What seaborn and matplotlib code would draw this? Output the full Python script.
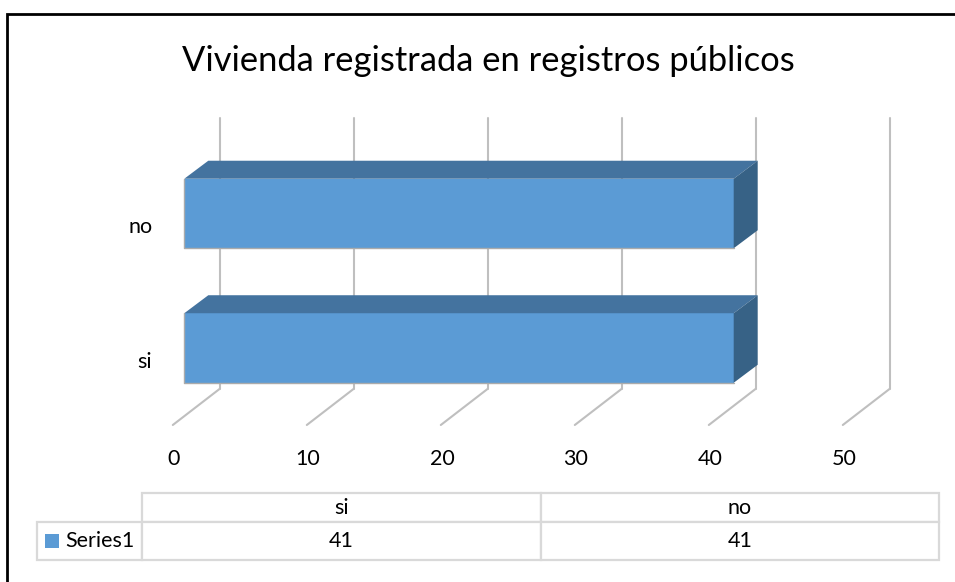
import matplotlib
matplotlib.use("Agg")
import matplotlib.pyplot as plt
from matplotlib.patches import Polygon, Rectangle
from matplotlib.transforms import ScaledTranslation
import pandas as pd
import seaborn as sns

# data
categories = ["no", "si"]
values = [41, 41]
table_columns = ["si", "no"]
table_values = [41, 41]
series_name = "Series1"
x_ticks = [0, 10, 20, 30, 40, 50]
title = "Vivienda registrada en registros públicos"

W, H = 955, 582
DPI = 100
BLUE = "#5B9BD5"
TOP = "#44739F"
SIDE = "#376286"
GRID = "#BFBFBF"
BAR_LINE = "#ABABAB"
TABLE_LINE = "#D9D9D9"

sns.set_theme(style="white")
plt.rcParams["font.family"] = ["Lato", "DejaVu Sans"]


# pixel box (from the top left) to figure fractions
def px_box(left, top, right, bottom):
    return [left / W, 1 - bottom / H, (right - left) / W, (bottom - top) / H]


fig = plt.figure(figsize=(W / DPI, H / DPI), dpi=DPI)


# shift in pixels, y going down
def shift(dx, dy):
    return ScaledTranslation(dx / DPI, -dy / DPI, fig.dpi_scale_trans)


# black frame, only left and top are inside the picture
frame = fig.add_axes([0, 0, 1, 1], zorder=0)
frame.set_xlim(0, W)
frame.set_ylim(H, 0)
frame.axis("off")
frame.plot([7, 7, W], [H, 13.5, 13.5], color="black", lw=2, solid_joinstyle="miter")

# front plane of the bars
ax = fig.add_axes(px_box(184.3, 140, 854.3, 405), zorder=1)
ax.patch.set_alpha(0)
df = pd.DataFrame({"cat": categories, "val": values})
sns.barplot(data=df, x="val", y="cat", order=categories, orient="h", color=BLUE,
            saturation=1, width=0.517, edgecolor="none", linewidth=0, ax=ax, zorder=3)
ax.set_xlim(0, 50)
ax.set_ylim((405 - 213.5) / 134.5, (140 - 213.5) / 134.5)
ax.set_xlabel("")
ax.set_ylabel("")
sns.despine(ax=ax, left=True, bottom=True)

# walls and floor lines of the 3d box
wall = ax.transData + shift(35.2, 0)
floor_y = (389 - 213.5) / 134.5
wall_top = (118 - 213.5) / 134.5
for v in x_ticks:
    ax.plot([v, v], [floor_y, wall_top], color=GRID, lw=1.5, transform=wall,
            clip_on=False, zorder=1, solid_capstyle="round")
    ax.plot([v, v - 46.7 / 13.4], [floor_y, floor_y + 36 / 134.5], color=GRID, lw=1.5,
            transform=wall, clip_on=False, zorder=1)

# depth of each bar, built from the bar itself
dx = 24 / 13.4
dy = 18 / 134.5
for bar in list(ax.patches):
    x0, y0 = bar.get_x(), bar.get_y()
    w, h = bar.get_width(), bar.get_height()
    top_y, low_y = min(y0, y0 + h), max(y0, y0 + h)
    ax.add_patch(Polygon([(x0, top_y), (x0 + dx, top_y - dy), (x0 + w + dx, top_y - dy), (x0 + w, top_y)],
                         facecolor=TOP, edgecolor="none", zorder=4, clip_on=False))
    ax.add_patch(Polygon([(x0 + w, top_y), (x0 + w + dx, top_y - dy), (x0 + w + dx, low_y - dy), (x0 + w, low_y)],
                         facecolor=SIDE, edgecolor="none", zorder=4, clip_on=False))
    # grey line on the left and under the front face only
    ax.plot([x0, x0, x0 + w], [top_y, low_y, low_y], color=BAR_LINE, lw=1, zorder=5, clip_on=False)

ax.set_xticks(x_ticks)
ax.set_xticklabels([str(t) for t in x_ticks])
ax.tick_params(axis="x", length=0, pad=32, labelsize=15.5, labelcolor="black")
ax.tick_params(axis="y", length=0, pad=23, labelsize=15.5, labelcolor="black")
for lab in ax.get_xticklabels():
    lab.set_transform(lab.get_transform() + shift(-10.3, 0))
for lab in ax.get_yticklabels():
    lab.set_transform(lab.get_transform() + shift(0, 12))

fig.text(488 / W, 1 - 61 / H, title, ha="center", va="center", fontsize=24.8, color="black")

# data table under the chart
tbl_ax = fig.add_axes(px_box(36.7, 493.3, 939, 560), zorder=2)
tbl_ax.axis("off")
cells = [[""] + table_columns, [series_name] + [str(v) for v in table_values]]
col_w = [105.3, 398.5, 398.5]
tbl = tbl_ax.table(cellText=cells, colWidths=col_w, cellLoc="center", bbox=[0, 0, 1, 1])
tbl.auto_set_font_size(False)
tbl.set_fontsize(15.5)
row_h = [28.4, 38.3]
for (r, c), cell in tbl.get_celld().items():
    cell.set_height(row_h[r])
    cell.set_edgecolor(TABLE_LINE)
    cell.set_linewidth(1.6)
    cell.get_text().set_color("black")
tbl[(0, 0)].visible_edges = ""
tbl[(1, 0)].PAD = (65 - 36.7) / 105.3
tbl[(1, 0)].get_text().set_ha("left")
tbl_ax.add_patch(Rectangle((45, 534), 14, 14, facecolor=BLUE, edgecolor="none", zorder=5,
                           transform=frame.transData, clip_on=False))

fig.savefig("out.png", dpi=DPI)
